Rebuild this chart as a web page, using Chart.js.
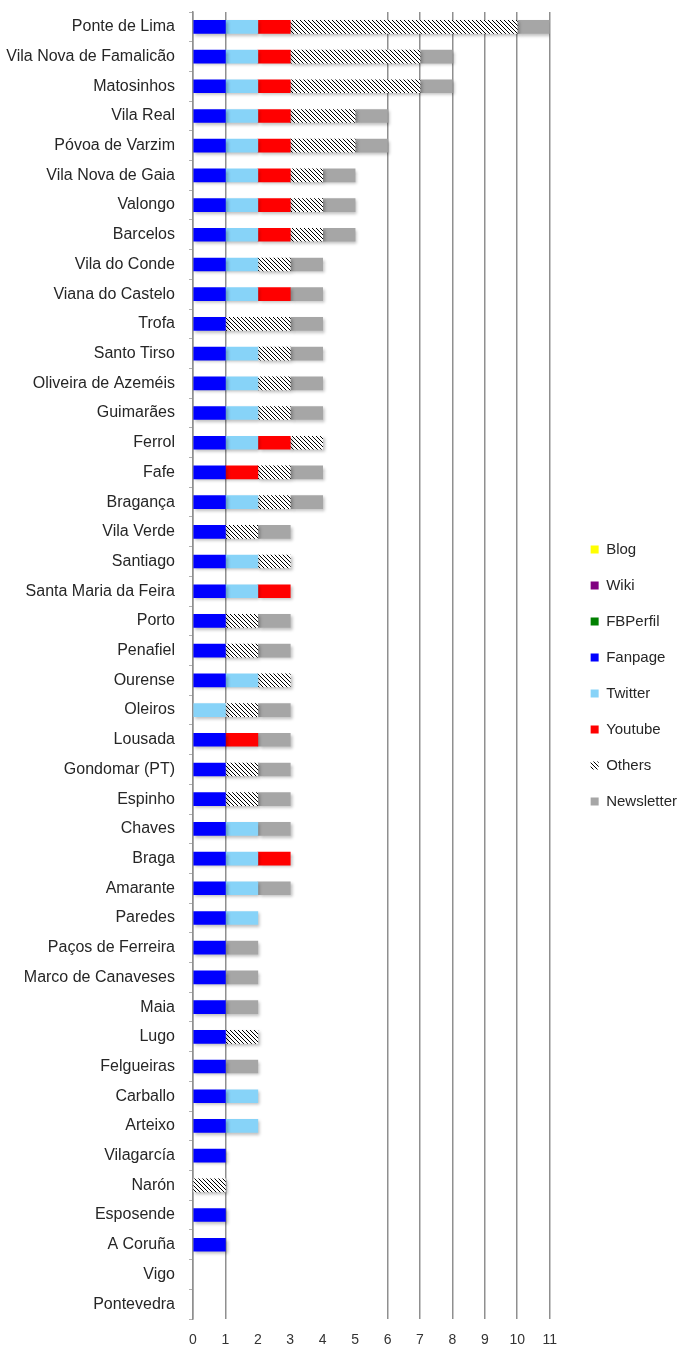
<!DOCTYPE html>
<html>
<head>
<meta charset="utf-8">
<title>Canais por município</title>
<script src="https://cdn.jsdelivr.net/npm/chart.js"></script>
<style>
  body { margin: 0; background: #fff; }
  canvas { display: block; }
</style>
</head>
<body>
<canvas id="graph" width="686" height="1347"></canvas>
<script>
const municipios = [
  'Ponte de Lima', 'Vila Nova de Famalicão', 'Matosinhos', 'Vila Real', 'Póvoa de Varzim',
  'Vila Nova de Gaia', 'Valongo', 'Barcelos', 'Vila do Conde', 'Viana do Castelo',
  'Trofa', 'Santo Tirso', 'Oliveira de Azeméis', 'Guimarães', 'Ferrol',
  'Fafe', 'Bragança', 'Vila Verde', 'Santiago', 'Santa Maria da Feira',
  'Porto', 'Penafiel', 'Ourense', 'Oleiros', 'Lousada',
  'Gondomar (PT)', 'Espinho', 'Chaves', 'Braga', 'Amarante',
  'Paredes', 'Paços de Ferreira', 'Marco de Canaveses', 'Maia', 'Lugo',
  'Felgueiras', 'Carballo', 'Arteixo', 'Vilagarcía', 'Narón',
  'Esposende', 'A Coruña', 'Vigo', 'Pontevedra'
];

const blog       = [0,0,0,0,0, 0,0,0,0,0, 0,0,0,0,0, 0,0,0,0,0, 0,0,0,0,0, 0,0,0,0,0, 0,0,0,0,0, 0,0,0,0,0, 0,0,0,0];
const wiki       = [0,0,0,0,0, 0,0,0,0,0, 0,0,0,0,0, 0,0,0,0,0, 0,0,0,0,0, 0,0,0,0,0, 0,0,0,0,0, 0,0,0,0,0, 0,0,0,0];
const fbPerfil   = [0,0,0,0,0, 0,0,0,0,0, 0,0,0,0,0, 0,0,0,0,0, 0,0,0,0,0, 0,0,0,0,0, 0,0,0,0,0, 0,0,0,0,0, 0,0,0,0];
const fanpage    = [1,1,1,1,1, 1,1,1,1,1, 1,1,1,1,1, 1,1,1,1,1, 1,1,1,0,1, 1,1,1,1,1, 1,1,1,1,1, 1,1,1,1,0, 1,1,0,0];
const twitter    = [1,1,1,1,1, 1,1,1,1,1, 0,1,1,1,1, 0,1,0,1,1, 0,0,1,1,0, 0,0,1,1,1, 1,0,0,0,0, 0,1,1,0,0, 0,0,0,0];
const youtube    = [1,1,1,1,1, 1,1,1,0,1, 0,0,0,0,1, 1,0,0,0,1, 0,0,0,0,1, 0,0,0,1,0, 0,0,0,0,0, 0,0,0,0,0, 0,0,0,0];
const others     = [7,4,4,2,2, 1,1,1,1,0, 2,1,1,1,1, 1,1,1,1,0, 1,1,1,1,0, 1,1,0,0,0, 0,0,0,0,1, 0,0,0,0,1, 0,0,0,0];
const newsletter = [1,1,1,1,1, 1,1,1,1,1, 1,1,1,1,0, 1,1,1,0,0, 1,1,0,1,1, 1,1,1,0,1, 0,1,1,1,0, 1,0,0,0,0, 0,0,0,0];

const xTicks = [0, 1, 2, 3, 4, 5, 6, 7, 8, 9, 10, 11];
const hiddenGrid = [2, 3, 4, 5];

// dotted diagonal fill, like Excel's pattern for "Others"
function othersPattern() {
  const tile = document.createElement('canvas');
  tile.width = 8;
  tile.height = 8;
  const c = tile.getContext('2d');
  c.fillStyle = '#fff';
  c.fillRect(0, 0, 8, 8);
  c.fillStyle = '#000';
  for (let y = 0; y < 8; y++) {
    for (let x = 0; x < 8; x++) {
      if ((x - y + 8) % 4 === 0) c.fillRect(x, y, 1, 1);
    }
  }
  return document.getElementById('graph').getContext('2d').createPattern(tile, 'repeat');
}

// widen the legend box so the plot stops at 11, then slide the items right / up
const LEGEND_EXTRA = 19;
const LEGEND_SHIFT = 20;
const LEGEND_LIFT = 4;
const legendShift = {
  id: 'legendShift',
  afterInit(chart) {
    const legend = chart.legend;
    const fit = legend.fit.bind(legend);
    legend.fit = function () { fit(); this.width += LEGEND_EXTRA; };
  },
  afterLayout(chart) {
    chart.legend.left += LEGEND_SHIFT;
    chart.legend.top -= LEGEND_LIFT;
    chart.legend.bottom -= LEGEND_LIFT;
  }
};

const barShadow = {
  id: 'barShadow',
  beforeDatasetsDraw(chart) {
    const ctx = chart.ctx;
    ctx.save();
    ctx.shadowColor = 'rgba(0,0,0,0.25)';
    ctx.shadowBlur = 3;
    ctx.shadowOffsetX = 2;
    ctx.shadowOffsetY = 2;
  },
  afterDatasetsDraw(chart) { chart.ctx.restore(); }
};

const series = [
  { label: 'Blog', data: blog, backgroundColor: '#ffff00' },
  { label: 'Wiki', data: wiki, backgroundColor: '#800080' },
  { label: 'FBPerfil', data: fbPerfil, backgroundColor: '#008000' },
  { label: 'Fanpage', data: fanpage, backgroundColor: '#0000ff' },
  { label: 'Twitter', data: twitter, backgroundColor: '#87d3f8' },
  { label: 'Youtube', data: youtube, backgroundColor: '#ff0000' },
  { label: 'Others', data: others, backgroundColor: othersPattern() },
  { label: 'Newsletter', data: newsletter, backgroundColor: '#a6a6a6' }
];

Chart.defaults.font.family = '"Liberation Sans", Arial, sans-serif';
Chart.defaults.color = '#262626';

new Chart(document.getElementById('graph').getContext('2d'), {
  type: 'bar',
  data: {
    labels: municipios,
    datasets: series.map(s => ({
      ...s,
      data: s.data.map(v => v === 0 ? null : v),
      barThickness: 13,
      borderWidth: 0
    }))
  },
  options: {
    indexAxis: 'y',
    responsive: false,
    animation: false,
    layout: { padding: { top: 12, right: 0, bottom: 0, left: 0 } },
    scales: {
      x: {
        stacked: true,
        min: 0,
        max: 11,
        afterBuildTicks: axis => { axis.ticks = xTicks.map(v => ({ value: v })); },
        afterFit: axis => { axis.height = 28; },
        grid: {
          color: c => hiddenGrid.includes(c.tick.value) ? 'rgba(0,0,0,0)' : '#8f8f8f',
          lineWidth: 1.5,
          drawTicks: false
        },
        border: { display: false },
        ticks: { padding: 13, font: { size: 14 }, color: '#333' }
      },
      y: {
        stacked: true,
        afterFit: axis => {
          axis.width = 193;
          axis.paddingTop = 0;
          axis.paddingBottom = 0;
        },
        grid: { drawOnChartArea: false, tickLength: 4, color: '#b0b0b0' },
        border: { display: true, color: '#8f8f8f', width: 1.5 },
        ticks: { padding: 14, autoSkip: false, font: { size: 16 }, color: '#262626' }
      }
    },
    plugins: {
      legend: {
        position: 'right',
        labels: { boxWidth: 8, boxHeight: 8, padding: 21, font: { size: 15 }, color: '#262626' }
      },
      tooltip: { enabled: false }
    }
  },
  plugins: [legendShift, barShadow]
});
</script>
</body>
</html>
